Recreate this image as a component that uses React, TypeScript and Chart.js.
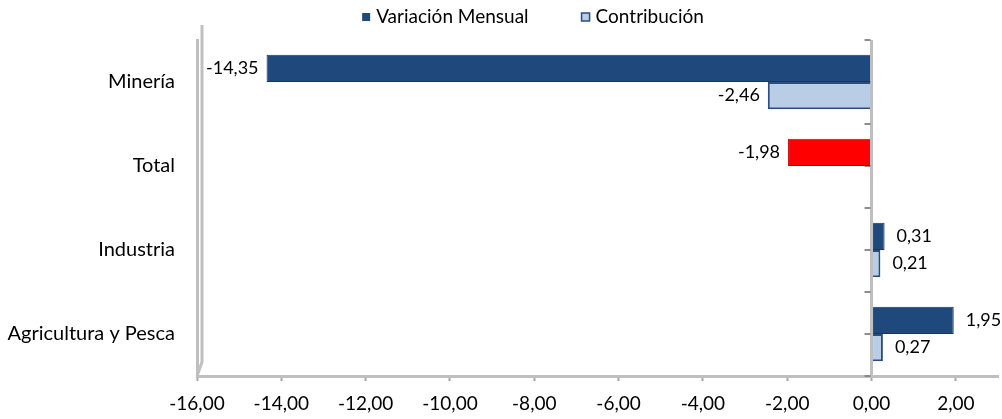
import React, { useEffect, useRef } from "react";
import { Chart, registerables } from "chart.js";

Chart.register(...registerables);

const categories = ["Minería", "Total", "Industria", "Agricultura y Pesca"];
const variacionMensual = [-14.35, -1.98, 0.31, 1.95];
const contribucion: (number | null)[] = [-2.46, null, 0.21, 0.27];
const xTickValues = [-16, -14, -12, -10, -8, -6, -4, -2, 0, 2];
const X_MIN = -16;
const X_MAX = 3;
const seriesNames = ["Variación Mensual", "Contribución"];

const DARK = "#1F497D";
const DARK_EDGE = "#17375E";
const LIGHT = "#B9CDE5";
const LIGHT_EDGE = "#2A4D7C";
const RED = "#FF0000";
const RED_EDGE = "#C00000";
const GRAY = "#BFBFBF";
const FONT = "Lato";
const FS = 19;
const FS_LBL = 18;
const FS_CAT = 20;

const fmt = (v: number) => v.toFixed(2).replace(".", ",");

const decorPlugin = {
  id: "decor",
  beforeDatasetsDraw(chart: any) {
    const { ctx, chartArea, scales } = chart;
    const y = scales.y;
    const x = scales.x;
    const x0 = x.getPixelForValue(0);
    ctx.save();
    // back wall edge
    ctx.strokeStyle = GRAY;
    ctx.lineWidth = 3;
    ctx.beginPath();
    ctx.moveTo(chartArea.left + 5, chartArea.top - 15);
    ctx.lineTo(chartArea.left + 5, chartArea.bottom - 14);
    ctx.lineTo(chartArea.left, chartArea.bottom);
    ctx.stroke();
    // small ticks on zero line
    const band = (chartArea.bottom - chartArea.top) / categories.length;
    ctx.strokeStyle = "#8C8C8C";
    ctx.lineWidth = 2;
    for (let k = 0; k <= categories.length * 2; k++) {
      const yy = Math.round(y.top + (k * band) / 2);
      ctx.beginPath();
      ctx.moveTo(x0 - 7, yy);
      ctx.lineTo(x0 - 1, yy);
      ctx.stroke();
    }
    ctx.restore();
  },
  afterDatasetsDraw(chart: any) {
    const { ctx } = chart;
    ctx.save();
    ctx.font = `${FS_LBL}px ${FONT}`;
    ctx.fillStyle = "#000";
    ctx.textBaseline = "middle";
    chart.data.datasets.forEach((ds: any, di: number) => {
      const meta = chart.getDatasetMeta(di);
      meta.data.forEach((el: any, i: number) => {
        const v = ds.data[i];
        if (v === null || v === undefined) return;
        if (v < 0) {
          ctx.textAlign = "right";
          ctx.fillText(fmt(v), el.x - 8, el.y);
        } else {
          ctx.textAlign = "left";
          ctx.fillText(fmt(v), el.x + 12, el.y);
        }
      });
    });
    ctx.restore();
  },
  afterDraw(chart: any) {
    // legend
    const { ctx } = chart;
    ctx.save();
    ctx.font = `${FS}px ${FONT}`;
    ctx.textBaseline = "middle";
    ctx.textAlign = "left";
    const box = 8;
    const gapText = 6;
    const gapItem = 53;
    const w0 = ctx.measureText(seriesNames[0]).width;
    const w1 = ctx.measureText(seriesNames[1]).width;
    const total = box + gapText + w0 + gapItem + box + gapText + w1;
    let lx = 533 - total / 2;
    const ly = 17;
    ctx.fillStyle = DARK;
    ctx.fillRect(lx, ly - box / 2, box, box);
    ctx.fillStyle = "#000";
    ctx.fillText(seriesNames[0], lx + box + gapText, ly);
    lx += box + gapText + w0 + gapItem;
    ctx.fillStyle = LIGHT;
    ctx.fillRect(lx, ly - box / 2, box, box);
    ctx.strokeStyle = LIGHT_EDGE;
    ctx.lineWidth = 1.5;
    ctx.strokeRect(lx, ly - box / 2, box, box);
    ctx.fillStyle = "#000";
    ctx.fillText(seriesNames[1], lx + box + gapText, ly);
    ctx.restore();
  },
};

export default function App() {
  const ref = useRef<HTMLCanvasElement | null>(null);
  useEffect(() => {
    if (!ref.current) return;
    const chart = new Chart(ref.current, {
      type: "bar",
      data: {
        labels: categories,
        datasets: [
          {
            label: seriesNames[0],
            data: variacionMensual,
            backgroundColor: (c: any) => (c.dataIndex === 1 ? RED : DARK),
            borderColor: (c: any) => (c.dataIndex === 1 ? RED_EDGE : DARK_EDGE),
            borderWidth: 1,
            categoryPercentage: 0.65,
            barPercentage: 1,
          },
          {
            label: seriesNames[1],
            data: contribucion,
            backgroundColor: LIGHT,
            borderColor: LIGHT_EDGE,
            borderWidth: 2,
            categoryPercentage: 0.65,
            barPercentage: 1,
          },
        ],
      },
      options: {
        indexAxis: "y",
        animation: false,
        responsive: true,
        maintainAspectRatio: false,
        layout: { padding: { top: 40, right: 4, left: 0, bottom: 0 } },
        plugins: {
          legend: { display: false },
          tooltip: { enabled: false },
        },
        scales: {
          x: {
            type: "linear",
            min: X_MIN,
            max: X_MAX,
            afterBuildTicks: (s: any) => {
              s.ticks = xTickValues.map((v) => ({ value: v }));
            },
            afterFit: (s: any) => {
              s.height = 43;
            },
            ticks: {
              font: { family: FONT, size: FS },
              color: "#000",
              padding: 11,
              maxRotation: 0,
              autoSkip: false,
              callback: (v: any) => fmt(Number(v)),
            },
            grid: {
              drawOnChartArea: true,
              color: (c: any) => (c.tick && c.tick.value === 0 ? GRAY : "rgba(0,0,0,0)"),
              lineWidth: (c: any) => (c.tick && c.tick.value === 0 ? 3 : 1),
              tickColor: "#A6A6A6",
              tickLength: 5,
              tickWidth: 2,
            },
            border: { display: true, color: GRAY, width: 3 },
          },
          y: {
            type: "category",
            afterFit: (s: any) => {
              s.width = 197;
            },
            ticks: {
              font: { family: FONT, size: FS_CAT },
              color: "#000",
              padding: 22,
            },
            grid: { display: false, drawTicks: false },
            border: { display: true, color: GRAY, width: 3 },
          },
        },
      },
      plugins: [decorPlugin],
    } as any);
    return () => chart.destroy();
  }, []);
  return (
    <div style={{ position: "fixed", left: 0, top: 0, width: 1002, height: 419, background: "#fff" }}>
      <canvas ref={ref} />
    </div>
  );
}
